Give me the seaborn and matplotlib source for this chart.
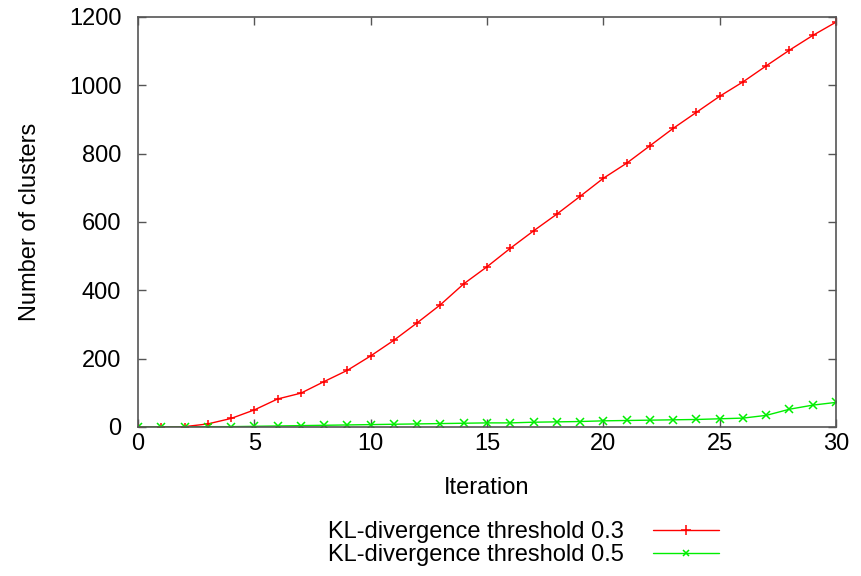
import numpy as np
import matplotlib
matplotlib.use("Agg")
import matplotlib.pyplot as plt
import pandas as pd
import seaborn as sns

iterations = list(range(31))
clusters_03 = [0, 0, 1, 9, 25, 50, 82, 99, 133, 166, 208, 254, 305, 358, 419, 469,
               523, 574, 623, 675, 728, 772, 823, 874, 921, 968, 1010, 1057, 1103, 1146, 1185]
clusters_05 = [0, 0, 0, 1, 1, 2, 3, 4, 5, 6, 7, 8, 9, 10, 11, 12,
               12, 14, 15, 16, 18, 19, 20, 21, 22, 24, 26, 34, 52, 64, 72]
labels = ["KL-divergence threshold 0.3", "KL-divergence threshold 0.5"]
colors = ["#ff0000", "#00ee00"]

df = pd.DataFrame({
    "Iteration": iterations * 2,
    "clusters": clusters_03 + clusters_05,
    "series": [labels[0]] * 31 + [labels[1]] * 31,
})

sns.set_style("ticks")
plt.rcParams['font.family'] = ['Liberation Sans', 'DejaVu Sans']
plt.rcParams.update({'font.size': 17, 'text.color': 'black',
                     'axes.labelcolor': 'black', 'xtick.color': 'black', 'ytick.color': 'black'})

fig = plt.figure(figsize=(8.61, 5.76), dpi=100)
ax = fig.add_axes([0.1603, 0.2587, 0.8107, 0.7118])

sns.lineplot(data=df, x="Iteration", y="clusters", hue="series", style="series",
             markers=["+", "x"], dashes=False, palette=colors,
             linewidth=1.0, markersize=6, ax=ax, legend=False)
# unfilled markers get a white edge by default, give them the line colour
for line in ax.lines:
    line.set_markeredgecolor(line.get_color())
    line.set_markeredgewidth(1.1)

ax.set_xlim(0, 30)
ax.set_ylim(0, 1200)
ax.set_xticks(range(0, 31, 5))
ax.set_yticks(range(0, 1201, 200))
ax.tick_params(direction="in", length=6, width=1, color="#555555", top=True, right=True,
               labelsize=17)
ax.tick_params(axis="x", pad=4)
ax.tick_params(axis="y", pad=12)
for sp in ax.spines.values():
    sp.set_color("#555555")
    sp.set_linewidth(1.2)
ax.set_xlabel("Iteration", fontsize=17, labelpad=16)
ax.set_ylabel("Number of clusters", fontsize=17, labelpad=20)

handles = [plt.Line2D([], [], color=colors[0], marker="+", markersize=7, lw=1.0, mew=1.1),
           plt.Line2D([], [], color=colors[1], marker="x", markersize=5, lw=1.0, mew=1.1)]
fig.legend(handles, labels, loc="center", bbox_to_anchor=(0.608, 0.056), frameon=False,
           markerfirst=False, numpoints=1, handlelength=2.8, handletextpad=1.2,
           labelspacing=0.05, fontsize=17)

fig.savefig("out.png", dpi=100)
